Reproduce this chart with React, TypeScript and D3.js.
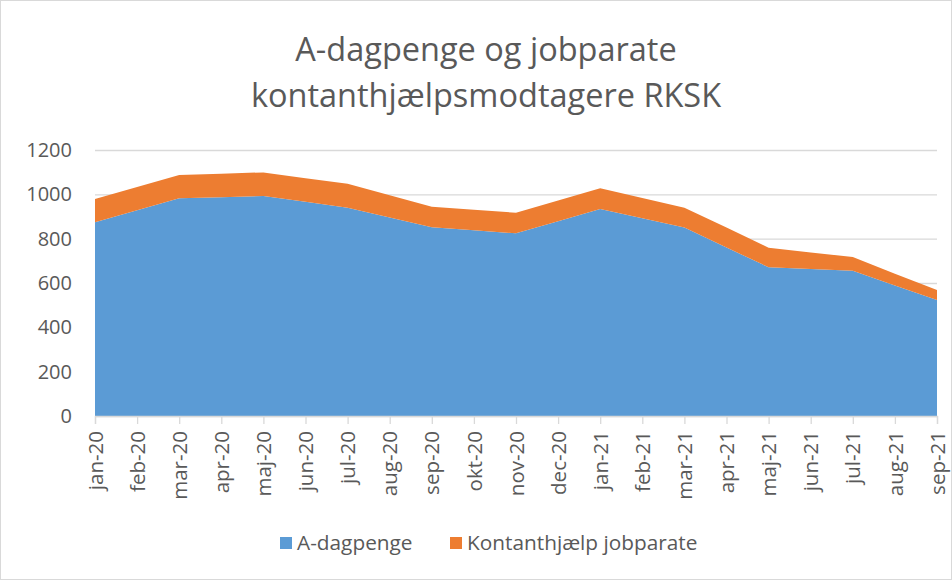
import React, { useRef, useEffect } from 'react';
import * as d3 from 'd3';

const months = [
  'jan-20', 'feb-20', 'mar-20', 'apr-20', 'maj-20', 'jun-20', 'jul-20',
  'aug-20', 'sep-20', 'okt-20', 'nov-20', 'dec-20', 'jan-21', 'feb-21',
  'mar-21', 'apr-21', 'maj-21', 'jun-21', 'jul-21', 'aug-21', 'sep-21',
];
const aDagpenge = [
  874, 928, 982, 987, 992, 966, 940, 895, 851, 838, 824,
  879, 934, 892, 850, 760, 671, 663, 655, 589, 523,
];
const kontanthjaelp = [
  105, 105, 105, 106, 107, 107, 108, 101, 93, 92, 93,
  93, 93, 91, 90, 90, 88, 75, 62, 53, 45,
];
const yTicks = [0, 200, 400, 600, 800, 1000, 1200];
const seriesNames = ['A-dagpenge', 'Kontanthjælp jobparate'];
const titleLines = ['A-dagpenge og jobparate', 'kontanthjælpsmodtagere RKSK'];

const FONT = '"Open Sans", sans-serif';
const TEXT = '#595959';
const GRID = '#d9d9d9';

export default function App() {
  const svgRef = useRef<SVGSVGElement | null>(null);

  useEffect(() => {
    const width = 952;
    const height = 580;
    const margin = { top: 150, right: 15, bottom: 164, left: 95 };
    const innerW = width - margin.left - margin.right;
    const innerH = height - margin.top - margin.bottom;

    const data = months.map((m, i) => ({ month: m, a: aDagpenge[i], k: kontanthjaelp[i] }));

    const svg = d3.select(svgRef.current);
    svg.selectAll('*').remove();
    svg.attr('width', width).attr('height', height);

    svg.append('rect')
      .attr('x', 0.5).attr('y', 0.5)
      .attr('width', width - 1).attr('height', height - 1)
      .attr('fill', '#fff').attr('stroke', GRID);

    // title
    svg.append('g')
      .selectAll('text')
      .data(titleLines)
      .join('text')
      .attr('x', width / 2 + 10)
      .attr('y', (d, i) => 61 + i * 46)
      .attr('text-anchor', 'middle')
      .attr('font-family', FONT)
      .attr('font-size', 32.5)
      .attr('fill', TEXT)
      .text((d) => d);

    const g = svg.append('g').attr('transform', `translate(${margin.left},${margin.top})`);

    const x = d3.scalePoint<string>().domain(months).range([0, innerW]);
    const y = d3.scaleLinear().domain([0, 1200]).range([innerH, 0]);

    // grid
    g.append('g')
      .call(d3.axisLeft(y).tickValues(yTicks).tickSize(-innerW).tickFormat(() => ''))
      .call((s) => s.select('.domain').remove())
      .selectAll('line')
      .attr('stroke', GRID)
      .attr('stroke-width', 1.3);

    const stack = d3.stack<any>().keys(['a', 'k']);
    const series = stack(data);
    const colors = ['#5b9bd5', '#ed7d31'];

    const area = d3.area<any>()
      .x((d) => x(d.data.month) as number)
      .y0((d) => y(d[0]))
      .y1((d) => y(d[1]));

    g.selectAll('.area')
      .data(series)
      .join('path')
      .attr('class', 'area')
      .attr('d', area as any)
      .attr('fill', (d, i) => colors[i]);

    // y axis labels
    const ya = g.append('g')
      .call(d3.axisLeft(y).tickValues(yTicks).tickFormat(d3.format('d')).tickSize(0).tickPadding(23));
    ya.select('.domain').remove();
    ya.selectAll('text')
      .attr('fill', TEXT)
      .attr('font-family', FONT)
      .attr('font-size', 20);

    // x axis
    const xa = g.append('g')
      .attr('transform', `translate(0,${innerH})`)
      .call(d3.axisBottom(x).tickSize(8).tickPadding(0));
    xa.select('.domain').attr('stroke', GRID).attr('stroke-width', 1.3);
    xa.selectAll('line').attr('stroke', GRID).attr('stroke-width', 1.3);
    xa.selectAll('text')
      .attr('fill', TEXT)
      .attr('font-family', FONT)
      .attr('font-size', 20.5)
      .attr('transform', 'rotate(-90)')
      .attr('text-anchor', 'end')
      .attr('x', -15)
      .attr('y', 0)
      .attr('dy', '0.35em');

    // legend
    const legendPos = [280, 450];
    const lg = svg.append('g').attr('transform', 'translate(0,543)');
    seriesNames.forEach((name, i) => {
      lg.append('rect')
        .attr('x', legendPos[i]).attr('y', -6)
        .attr('width', 12).attr('height', 12)
        .attr('fill', colors[i]);
      lg.append('text')
        .attr('x', legendPos[i] + 17)
        .attr('y', 0)
        .attr('dy', '0.35em')
        .attr('font-family', FONT)
        .attr('font-size', 20.8)
        .attr('fill', TEXT)
        .text(name);
    });
  }, []);

  return (
    <div style={{ position: 'absolute', left: 0, top: 0 }}>
      <svg ref={svgRef} style={{ display: 'block' }} />
    </div>
  );
}
